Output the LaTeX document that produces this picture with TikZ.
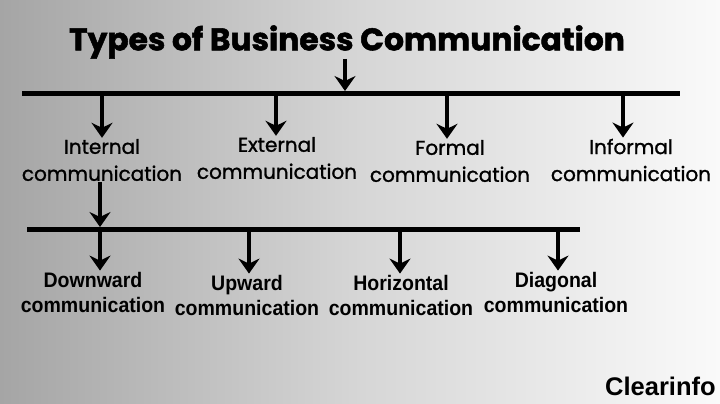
\documentclass[tikz,border=0pt]{standalone}
\usepackage{fontspec}
\setmainfont{Poppins}
\newfontfamily\popmed[FakeBold=1.2]{Poppins}
\newfontfamily\popheavy[FakeBold=1.6]{Poppins Bold}
\newfontfamily\lvltwo[FakeStretch=0.93]{Liberation Sans}
\newfontfamily\wmark{Liberation Sans}
\usetikzlibrary{arrows.meta}
\definecolor{bgL}{RGB}{165,165,165}
\definecolor{bgM}{RGB}{214,214,214}
\definecolor{bgR}{RGB}{250,250,250}
\tikzset{
  bar/.style={line width=5pt},
  arr/.style={line width=4pt,-{Stealth[length=15pt,width=21pt,inset=5pt]}},
  lone/.style={align=center,font=\popmed\fontsize{20}{27}\selectfont,inner sep=1pt},
  ltwo/.style={align=center,font=\lvltwo\bfseries\fontsize{21}{25}\selectfont,inner sep=1pt},
}
\begin{document}
\begin{tikzpicture}[x=1pt,y=-1pt]
\useasboundingbox (0,0) rectangle (720,404);
\shade[left color=bgL,right color=bgR,middle color=bgM] (0,0) rectangle (720,404);
% title
\node[font=\popheavy\fontsize{31.3}{32}\selectfont,inner sep=0pt] (title) at (347,42) {Types of Business Communication};
\coordinate (tb) at (345,91);
\draw[arr] (title.south -| tb) -- (tb);
% top bar
\coordinate (b1L) at (22,93);
\coordinate (b1R) at (680,93);
\draw[bar] (b1L) -- (b1R);
% level one labels
\node[lone] (int) at (102,160) {Internal\\communication};
\node[lone] (ext) at (277,158) {External\\communication};
\node[lone] (for) at (450,161) {Formal\\communication};
\node[lone] (inf) at (631,160) {Informal\\communication};
\foreach \n/\x in {int/102,ext/276,for/447,inf/623}{
  \coordinate (a\n) at (\x,95);
  \draw[arr] (a\n) -- (a\n |- \n.north);
}
% second bar
\coordinate (b2L) at (27,229);
\coordinate (b2R) at (580,229);
\coordinate (b2i) at (100,227);
\draw[arr] (int.south -| b2i) -- (b2i);
\draw[bar] (b2L) -- (b2R);
% level two labels
\node[ltwo] (dow) at (93,292) {Downward\\communication};
\node[ltwo] (upw) at (247,295) {Upward\\communication};
\node[ltwo] (hor) at (401,295) {Horizontal\\communication};
\node[ltwo] (dia) at (556,292) {Diagonal\\communication};
\foreach \n/\x in {dow/100,upw/249,hor/400,dia/558}{
  \coordinate (c\n) at (\x,231);
  \draw[arr] (c\n) -- (c\n |- \n.north);
}
% watermark
\node[font=\wmark\bfseries\fontsize{25.5}{25.5}\selectfont,anchor=base west,inner sep=0pt] (ci) at (605,395) {Clearinfo};
\end{tikzpicture}
\end{document}
